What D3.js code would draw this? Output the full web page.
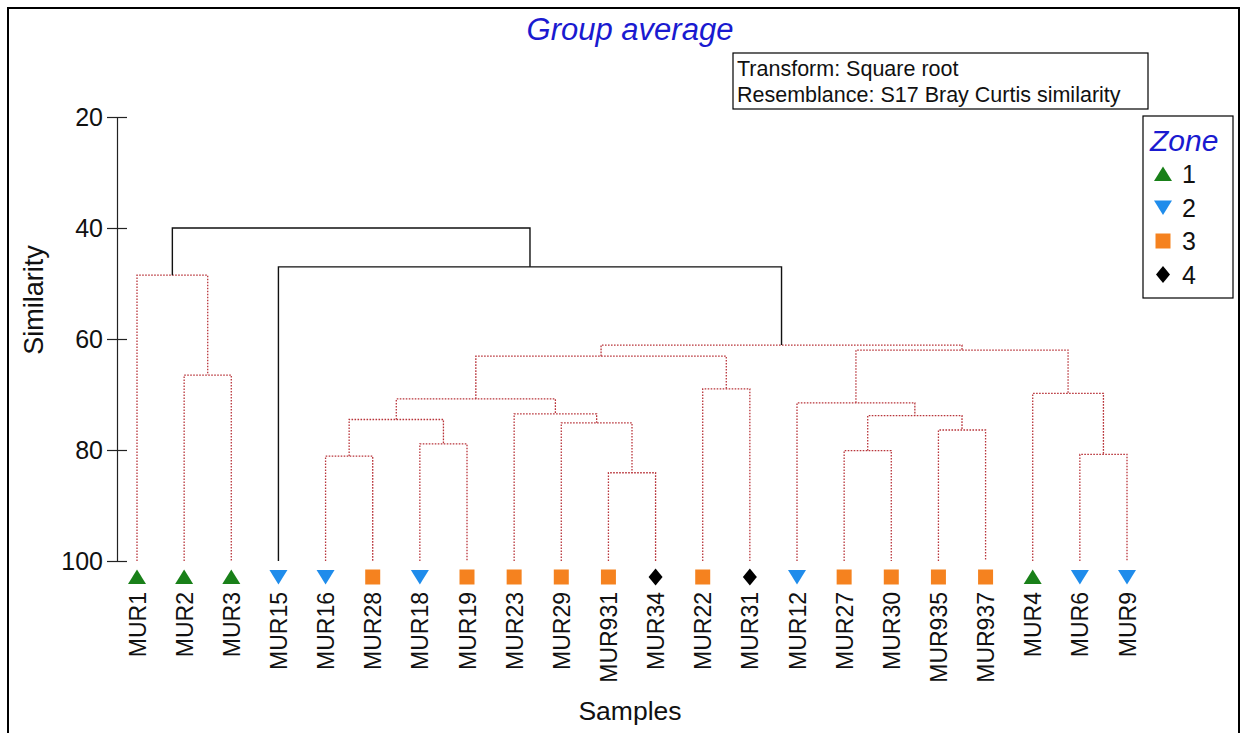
<!DOCTYPE html>
<html><head><meta charset="utf-8">
<script src="https://cdn.jsdelivr.net/npm/d3@7"></script>
<style>
html,body{margin:0;padding:0;background:#fff;}
text{font-family:"Liberation Sans",Arial,sans-serif;}
</style></head>
<body><svg id="chart" width="1254" height="733"></svg>
<script>
// ---- data ----
const leaves = ["MUR1","MUR2","MUR3","MUR15","MUR16","MUR28","MUR18","MUR19","MUR23","MUR29","MUR931","MUR34","MUR22","MUR31","MUR12","MUR27","MUR30","MUR935","MUR937","MUR4","MUR6","MUR9"];
const zones  = [1,1,1,2,2,3,2,3,3,3,3,4,3,4,2,3,3,3,3,1,2,2];
// merges: [left, right, similarity]; strings = leaf names, numbers = earlier merge index
const merges = [
  ["MUR2","MUR3",66.5],   // 0
  ["MUR1",0,48.5],        // 1
  ["MUR16","MUR28",81.1], // 2
  ["MUR18","MUR19",78.9], // 3
  [2,3,74.5],             // 4
  ["MUR931","MUR34",84.1],// 5
  ["MUR29",5,75.1],       // 6
  ["MUR23",6,73.5],       // 7
  [4,7,70.8],             // 8
  ["MUR22","MUR31",69.0], // 9
  [8,9,63.1],             // 10
  ["MUR27","MUR30",80.1], // 11
  ["MUR935","MUR937",76.4],//12
  [11,12,73.8],           // 13
  ["MUR12",13,71.5],      // 14
  ["MUR6","MUR9",80.8],   // 15
  ["MUR4",15,69.8],       // 16
  [14,16,62.0],           // 17
  [10,17,61.1],           // 18
  ["MUR15",18,47.0],      // 19
  [1,19,40.0]             // 20
];
// SIMPROF: true = significant split (solid black), false = not (red dotted)
const significant = [false,false,false,false,false,false,false,false,false,false,false,false,false,false,false,false,false,false,false,true,true];
const yTicks = [20,40,60,80,100];
const zoneLevels = [1,2,3,4];
const zoneColors = ["#198019","#1f8ceb","#f5821f","#000000"];

// ---- drawing ----
const svg = d3.select("#chart");
const x = d3.scalePoint().domain(leaves).range([137,1127]);
const y = d3.scaleLinear().domain([20,100]).range([117,561]);
const zoneColor = d3.scaleOrdinal().domain(zoneLevels).range(zoneColors);

// outer frame
svg.append("rect").attr("x",8).attr("y",8).attr("width",1231).attr("height",740)
  .attr("fill","none").attr("stroke","#000").attr("stroke-width",2);

// title
svg.append("text").attr("x",630).attr("y",40).attr("text-anchor","middle")
  .attr("font-size",31).attr("font-style","italic").attr("fill","#1a1ad0").text("Group average");

// info box
const info = svg.append("g");
info.append("rect").attr("x",733).attr("y",53).attr("width",415).attr("height",56)
  .attr("fill","#fff").attr("stroke","#000").attr("stroke-width",1.2);
info.append("text").attr("x",737).attr("y",76).attr("font-size",21.5).attr("fill","#111").text("Transform: Square root");
info.append("text").attr("x",737).attr("y",102).attr("font-size",21.5).attr("fill","#111").text("Resemblance: S17 Bray Curtis similarity");

// axis
const axis = d3.axisLeft(y).tickValues(yTicks).tickSizeOuter(0).tickSize(10).tickPadding(5);
const ag = svg.append("g").attr("transform","translate(117,0)").call(axis);
ag.select(".domain").attr("stroke","#222").attr("stroke-width",1.2);
ag.selectAll(".tick line").attr("x1",-10).attr("x2",10).attr("stroke","#222").attr("stroke-width",1.2);
ag.selectAll(".tick text").attr("x",-14).attr("font-size",25).attr("fill","#111")
  .attr("font-family","Liberation Sans, Arial, sans-serif");

// axis titles
svg.append("text").attr("transform","translate(43,300) rotate(-90)").attr("text-anchor","middle")
  .attr("font-size",27).attr("fill","#111").text("Similarity");
svg.append("text").attr("x",630).attr("y",720).attr("text-anchor","middle")
  .attr("font-size",26.5).attr("fill","#111").text("Samples");

// dendrogram
const pos = {};
leaves.forEach(l => pos[l] = {x:x(l), h:100});
const nodes = merges.map(() => null);
function getNode(k){ return typeof k === "string" ? pos[k] : nodes[k]; }
merges.forEach((m,i) => {
  const a = getNode(m[0]), b = getNode(m[1]);
  nodes[i] = {x:(a.x+b.x)/2, h:m[2], a, b, sig:significant[i]};
});
const dg = svg.append("g");
nodes.forEach(n => {
  const style = s => s.attr("fill","none")
    .attr("stroke", n.sig ? "#111" : "#b8343a")
    .attr("stroke-width", n.sig ? 1.4 : 1.3)
    .attr("stroke-dasharray", n.sig ? null : "1.6,1.4");
  const p = d3.path();
  p.moveTo(n.a.x, y(n.a.h)); p.lineTo(n.a.x, y(n.h)); p.lineTo(n.b.x, y(n.h)); p.lineTo(n.b.x, y(n.b.h));
  dg.append("path").attr("d", p.toString()).call(style);
});

// symbols
const diamond = {draw(ctx,size){ const w=7, h=8.5; ctx.moveTo(0,-h); ctx.lineTo(w,0); ctx.lineTo(0,h); ctx.lineTo(-w,0); ctx.closePath(); }};
const tri = {draw(ctx,size){ ctx.moveTo(0,-7.5); ctx.lineTo(9,7); ctx.lineTo(-9,7); ctx.closePath(); }};
const square = {draw(ctx,size){ ctx.rect(-7.5,-7.5,15,15); }};
function symPath(z){
  if (z===1 || z===2) return d3.symbol(tri)();
  if (z===3) return d3.symbol(square)();
  return d3.symbol(diamond)();
}
function symTransform(z,cx,cy){ return `translate(${cx},${cy})` + (z===2 ? " rotate(180)" : ""); }

const lg = svg.append("g");
leaves.forEach((l,i) => {
  const z = zones[i];
  lg.append("path").attr("d", symPath(z)).attr("transform", symTransform(z, x(l), 577)).attr("fill", zoneColor(z));
  lg.append("text").attr("transform",`translate(${x(l)+8.5},592) rotate(-90)`).attr("text-anchor","end")
    .attr("font-size",23).attr("fill","#111").text(l);
});

// zone legend
const zl = svg.append("g");
zl.append("rect").attr("x",1143).attr("y",116).attr("width",90).attr("height",182)
  .attr("fill","#fff").attr("stroke","#000").attr("stroke-width",1.2);
zl.append("text").attr("x",1150).attr("y",151).attr("font-size",30).attr("font-style","italic")
  .attr("fill","#1a1ad0").text("Zone");
zoneLevels.forEach((z,i) => {
  const cy = 174 + i*33.5;
  zl.append("path").attr("d", symPath(z)).attr("transform", symTransform(z, 1163, cy)).attr("fill", zoneColor(z));
  zl.append("text").attr("x",1182).attr("y",cy+9).attr("font-size",25).attr("fill","#111").text(z);
});
</script></body></html>
